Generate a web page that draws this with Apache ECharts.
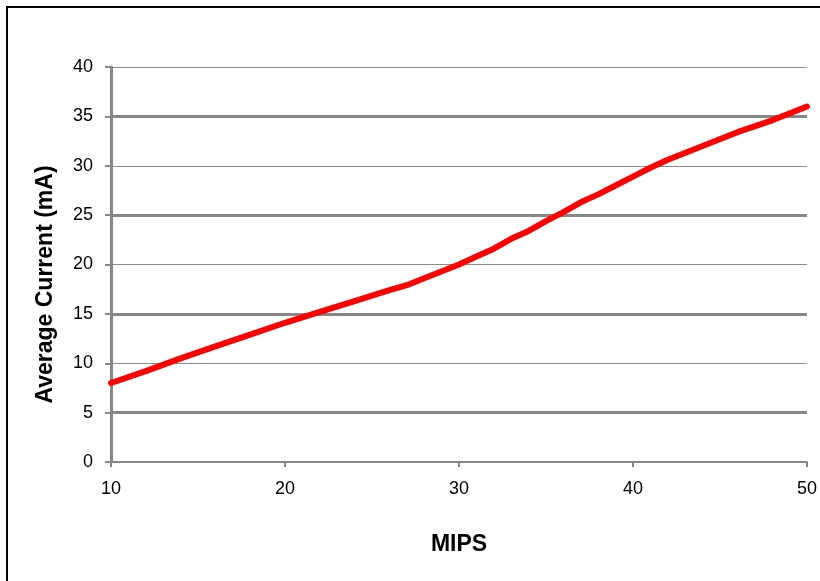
<!DOCTYPE html>
<html>
<head>
<meta charset="utf-8">
<script src="https://cdn.jsdelivr.net/npm/echarts@6/dist/echarts.min.js"></script>
<style>
  html, body { margin: 0; padding: 0; background: #fff; }
  #chart { width: 820px; height: 581px; }
</style>
</head>
<body>
<div id="chart"></div>
<script>
// MIPS (x) and average current in mA (y)
const mips = [10, 12, 14, 16, 18, 20, 22, 24, 26, 27, 28, 30, 31, 32, 33, 34, 35, 36, 37, 38, 39, 40, 41, 42, 44, 46, 48, 50];
const currentMA = [8.0, 9.2, 10.5, 11.7, 12.9, 14.1, 15.2, 16.3, 17.4, 17.9, 18.6, 20.0, 20.8, 21.6, 22.6, 23.4, 24.4, 25.3, 26.3, 27.1, 28.0, 28.9, 29.8, 30.6, 32.0, 33.4, 34.6, 36.0];
const majorGridValues = [5, 15, 25, 35];
const xTicks = [10, 20, 30, 40, 50];
const yTicks = [0, 5, 10, 15, 20, 25, 30, 35, 40];

const chart = echarts.init(document.getElementById('chart'), null, { renderer: 'canvas' });
const labelFont = { fontFamily: 'Liberation Sans', fontSize: 18, color: '#000' };
const titleFont = { fontFamily: 'Liberation Sans', fontSize: 23, fontWeight: 'bold', color: '#000' };

chart.setOption({
  animation: false,
  backgroundColor: '#fff',
  graphic: [{
    type: 'rect',
    shape: { x: 7, y: 7, width: 900, height: 900 },
    style: { fill: 'none', stroke: '#000', lineWidth: 2 },
    silent: true
  }],
  grid: { left: 111, right: 12, top: 67, bottom: 119 },
  xAxis: {
    type: 'value',
    min: xTicks[0],
    max: xTicks[xTicks.length - 1],
    interval: 10,
    name: 'MIPS',
    nameLocation: 'middle',
    nameGap: 71,
    nameTextStyle: titleFont,
    axisLine: { show: true, lineStyle: { color: '#868686', width: 2 } },
    axisTick: { show: true, length: 5, lineStyle: { color: '#868686', width: 2 } },
    axisLabel: Object.assign({ margin: 18 }, labelFont),
    splitLine: { show: false }
  },
  yAxis: {
    type: 'value',
    min: yTicks[0],
    max: yTicks[yTicks.length - 1],
    interval: 5,
    name: 'Average Current (mA)',
    nameLocation: 'middle',
    nameGap: 54,
    nameRotate: 90,
    nameTextStyle: Object.assign({ padding: [0, 40, 0, 0] }, titleFont),
    axisLine: { show: true, lineStyle: { color: '#868686', width: 3 } },
    axisTick: { show: true, length: 6, lineStyle: { color: '#868686', width: 2 } },
    axisLabel: Object.assign({ margin: 18 }, labelFont),
    splitLine: { show: true, lineStyle: { color: '#8a8a8a', width: 1 } }
  },
  series: [
    {
      type: 'line',
      data: [],
      silent: true,
      z: 1,
      markLine: {
        silent: true,
        symbol: 'none',
        label: { show: false },
        lineStyle: { color: '#868686', width: 3, type: 'solid' },
        data: majorGridValues.map(v => ({ yAxis: v }))
      }
    },
    {
      type: 'line',
      z: 5,
      data: mips.map((m, i) => [m, currentMA[i]]),
      showSymbol: false,
      symbol: 'none',
      smooth: false,
      lineStyle: { color: '#ff0000', width: 6, cap: 'round', join: 'round' }
    }
  ]
});
</script>
</body>
</html>
